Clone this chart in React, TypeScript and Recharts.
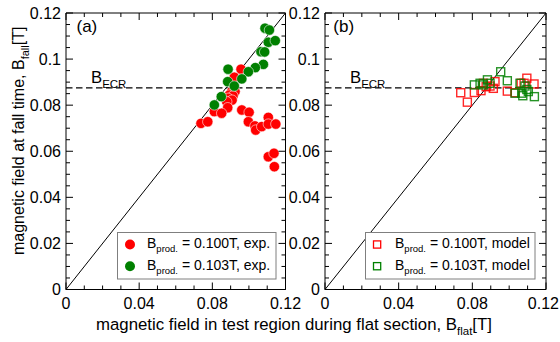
import React from 'react';
import { ScatterChart, Scatter, XAxis, YAxis, ReferenceLine } from 'recharts';

const FONT = '"Liberation Sans", Arial, Helvetica, sans-serif';

// ---- axis ticks ----
const xTicks = [0, 0.01, 0.02, 0.03, 0.04, 0.05, 0.06, 0.07, 0.08, 0.09, 0.1, 0.11, 0.12];
const xLabelTicks = [0, 0.04, 0.08, 0.12];
const xTickLabels = ['0', '0.04', '0.08', '0.12'];
const yTicks = [0, 0.005, 0.01, 0.015, 0.02, 0.025, 0.03, 0.035, 0.04, 0.045, 0.05, 0.055, 0.06,
  0.065, 0.07, 0.075, 0.08, 0.085, 0.09, 0.095, 0.1, 0.105, 0.11, 0.115, 0.12];
const yLabelTicks = [0, 0.02, 0.04, 0.06, 0.08, 0.1, 0.12];
const yTickLabels = ['0', '0.02', '0.04', '0.06', '0.08', '0.1', '0.12'];
const axisDomain = [0, 0.12];

// ---- reference values ----
const bEcr = 0.0875;
const diagonalEnds = [0, 0.12];

// ---- panel (a): experiment, B_prod = 0.100 T ----
const expRedX = [0.0957, 0.0920, 0.0906, 0.0924, 0.0893, 0.0913, 0.0886, 0.0908, 0.0879, 0.0884, 0.0811,
  0.0851, 0.0738, 0.0775, 0.0961, 0.1001, 0.0997, 0.1033, 0.1037, 0.1070, 0.1106, 0.1106, 0.1147,
  0.1106, 0.1137, 0.1139];
const expRedY = [0.0956, 0.0921, 0.0859, 0.0859, 0.0844, 0.0840, 0.0830, 0.0822, 0.0815, 0.0789, 0.0772,
  0.0765, 0.0721, 0.0728, 0.0779, 0.0769, 0.0728, 0.0710, 0.0692, 0.0707, 0.0747, 0.0718, 0.0718,
  0.0576, 0.0591, 0.0533];
// ---- panel (a): experiment, B_prod = 0.103 T ----
const expGreenX = [0.1088, 0.1112, 0.1106, 0.1144, 0.1066, 0.1086, 0.1079, 0.1035, 0.0997, 0.0961,
  0.0886, 0.0884, 0.0920, 0.0849, 0.0811];
const expGreenY = [0.1134, 0.1126, 0.1073, 0.1080, 0.1032, 0.1031, 0.0977, 0.0963, 0.0945, 0.0914,
  0.0956, 0.0902, 0.0883, 0.0837, 0.0801];

// ---- panel (b): model, B_prod = 0.100 T ----
const modelRedX = [0.0737, 0.0773, 0.0811, 0.0847, 0.0875, 0.0896, 0.0923, 0.0914, 0.0860, 0.0990,
  0.1032, 0.1065, 0.1096, 0.1135, 0.1081];
const modelRedY = [0.0854, 0.0813, 0.0855, 0.0863, 0.0880, 0.0883, 0.0902, 0.0873, 0.0895, 0.0861,
  0.0854, 0.0895, 0.0917, 0.0892, 0.0895];
// ---- panel (b): model, B_prod = 0.103 T ----
const modelGreenX = [0.0811, 0.0842, 0.0882, 0.0896, 0.0954, 0.0990, 0.1032, 0.1068, 0.1074, 0.1096,
  0.1137, 0.1059, 0.1104, 0.0860, 0.1086];
const modelGreenY = [0.0888, 0.0895, 0.0910, 0.0895, 0.0945, 0.0906, 0.0852, 0.0852, 0.0841, 0.0868,
  0.0837, 0.0895, 0.0859, 0.0888, 0.0883];

const zip = (xs: number[], ys: number[]) => xs.map((x, i) => ({ x, y: ys[i] }));

const RED = '#ff0000';
const GREEN = '#008000';

const near = (a: number, b: number) => Math.abs(a - b) < 1e-9;
const labelFor = (v: number, vals: number[], labels: string[]) => {
  const i = vals.findIndex((t) => near(t, v));
  return i >= 0 ? labels[i] : null;
};

const MAJOR = 7;
const MINOR = 4;
const PAGE_W = 560;

const BottomTick = (props: any) => {
  const { x, y, payload } = props;
  const lab = labelFor(payload.value, xLabelTicks, xTickLabels);
  const halfW = lab ? lab.length * 4.1 : 0;
  const overflow = x + halfW > PAGE_W - 1;
  return (
    <g>
      <line x1={x} x2={x} y1={y} y2={y - (lab ? MAJOR : MINOR)} stroke="#000" />
      {lab && (
        <text x={overflow ? PAGE_W - 1 : x} y={y + 19.5} textAnchor={overflow ? 'end' : 'middle'}
          fontSize={16} fontFamily={FONT} fill="#000">
          {lab}
        </text>
      )}
    </g>
  );
};
const TopTick = (props: any) => {
  const { x, y, payload } = props;
  const lab = labelFor(payload.value, xLabelTicks, xTickLabels);
  return <line x1={x} x2={x} y1={y} y2={y + (lab ? MAJOR : MINOR)} stroke="#000" />;
};
const LeftTick = (props: any) => {
  const { x, y, payload } = props;
  const lab = labelFor(payload.value, yLabelTicks, yTickLabels);
  return (
    <g>
      <line x1={x} x2={x + (lab ? MAJOR : MINOR)} y1={y} y2={y} stroke="#000" />
      {lab && (
        <text x={x - 5} y={y} dy="0.36em" textAnchor="end" fontSize={16} fontFamily={FONT} fill="#000">
          {lab}
        </text>
      )}
    </g>
  );
};
const RightTick = (props: any) => {
  const { x, y, payload } = props;
  const lab = labelFor(payload.value, yLabelTicks, yTickLabels);
  return <line x1={x} x2={x - (lab ? MAJOR : MINOR)} y1={y} y2={y} stroke="#000" />;
};

const CircleMark = (color: string) => (p: any) => (
  <circle cx={p.cx} cy={p.cy} r={5.2} fill={color} stroke="#ffffff" strokeWidth={0.7} strokeOpacity={0.8} />
);
const SquareMark = (color: string) => (p: any) => (
  <rect x={p.cx - 4} y={p.cy - 4} width={8} height={8} fill="none" stroke={color} strokeWidth={1.4} strokeOpacity={0.85} />
);

type PanelProps = {
  margin: { top: number; right: number; bottom: number; left: number };
  series: { data: { x: number; y: number }[]; color: string; square: boolean }[];
};

const Panel = ({ margin, series }: PanelProps) => (
  <div style={{ position: 'absolute', left: 0, top: 0 }}>
    <ScatterChart width={560} height={342} margin={margin}>
      <XAxis xAxisId="b" orientation="bottom" type="number" dataKey="x" domain={axisDomain}
        allowDataOverflow ticks={xTicks} interval={0} height={1} tickSize={0} tickMargin={0}
        tick={<BottomTick />} tickLine={false} axisLine={{ stroke: '#000' }} />
      <XAxis xAxisId="t" orientation="top" type="number" dataKey="x" domain={axisDomain}
        allowDataOverflow ticks={xTicks} interval={0} height={1} tickSize={0} tickMargin={0}
        tick={<TopTick />} tickLine={false} axisLine={{ stroke: '#000' }} />
      <YAxis yAxisId="l" orientation="left" type="number" dataKey="y" domain={axisDomain}
        allowDataOverflow ticks={yTicks} interval={0} width={1} tickSize={0} tickMargin={0}
        tick={<LeftTick />} tickLine={false} axisLine={{ stroke: '#000' }} />
      <YAxis yAxisId="r" orientation="right" type="number" dataKey="y" domain={axisDomain}
        allowDataOverflow ticks={yTicks} interval={0} width={1} tickSize={0} tickMargin={0}
        tick={<RightTick />} tickLine={false} axisLine={{ stroke: '#000' }} />
      {series.map((s, i) => (
        <Scatter key={i} xAxisId="b" yAxisId="l" data={s.data} isAnimationActive={false}
          shape={s.square ? SquareMark(s.color) : CircleMark(s.color)} />
      ))}
      <ReferenceLine xAxisId="b" yAxisId="l" y={bEcr} stroke="#000" strokeWidth={1.2} strokeDasharray="6.5 3.5" />
      <ReferenceLine xAxisId="b" yAxisId="l" stroke="#000" strokeWidth={1}
        segment={[{ x: diagonalEnds[0], y: diagonalEnds[0] }, { x: diagonalEnds[1], y: diagonalEnds[1] }]} />
    </ScatterChart>
  </div>
);

const Legend = ({ x, w, square, labels }: { x: number; w: number; square: boolean; labels: string[] }) => {
  const colors = [RED, GREEN];
  const rows = [248.3, 270];
  const marks = [244.5, 266.2];
  return (
    <g>
      <rect x={x} y={232.5} width={w} height={46.5} fill="#fff" stroke="#7f7f7f" strokeWidth={1} />
      {labels.map((lab, i) => (
        <g key={i}>
          {square ? (
            <rect x={x + 8} y={marks[i] - 3.6} width={7.2} height={7.2} fill="none" stroke={colors[i]} strokeWidth={1.3} />
          ) : (
            <circle cx={x + 12.5} cy={marks[i]} r={5} fill={colors[i]} />
          )}
          <text x={x + 29.5} y={rows[i]} fontSize={14} fontFamily={FONT} fill="#000">
            B<tspan fontSize={9.5} dy={4}>prod.</tspan>
            <tspan dy={-4}>{' = ' + lab}</tspan>
          </text>
        </g>
      ))}
    </g>
  );
};

export default function App() {
  return (
    <div style={{ position: 'absolute', left: 0, top: 0, width: 560, height: 342, background: '#fff' }}>
      <Panel
        margin={{ top: 12, left: 65, right: 273.5, bottom: 51.5 }}
        series={[
          { data: zip(expRedX, expRedY), color: RED, square: false },
          { data: zip(expGreenX, expGreenY), color: GREEN, square: false },
        ]}
      />
      <Panel
        margin={{ top: 12, left: 324, right: 13, bottom: 51.5 }}
        series={[
          { data: zip(modelRedX, modelRedY), color: RED, square: true },
          { data: zip(modelGreenX, modelGreenY), color: GREEN, square: true },
        ]}
      />
      <svg width={560} height={342} style={{ position: 'absolute', left: 0, top: 0, pointerEvents: 'none' }}
        fontFamily={FONT}>
        <text x={76.5} y={32} fontSize={17} fill="#000">(a)</text>
        <text x={333.3} y={32} fontSize={17} fill="#000">(b)</text>
        <text x={91} y={82.7} fontSize={16.7} fill="#000">
          B<tspan fontSize={11.5} dy={5}>ECR</tspan>
        </text>
        <text x={350} y={82.7} fontSize={16.7} fill="#000">
          B<tspan fontSize={11.5} dy={5}>ECR</tspan>
        </text>
        <text x={96} y={330} fontSize={16.8} fill="#000">
          magnetic field in test region during flat section, B<tspan fontSize={11.5} dy={5}>flat</tspan>
          <tspan dy={-5}>[T]</tspan>
        </text>
        <text x={23.5} y={255} fontSize={16} fill="#000" transform="rotate(-90 23.5 255)">
          magnetic field at fall time, B<tspan fontSize={11} dy={5}>fall</tspan>
          <tspan dy={-5}>[T]</tspan>
        </text>
        <Legend x={117.5} w={158.5} square={false} labels={['0.100T, exp.', '0.103T, exp.']} />
        <Legend x={365.5} w={169.5} square={true} labels={['0.100T, model', '0.103T, model']} />
      </svg>
    </div>
  );
}
